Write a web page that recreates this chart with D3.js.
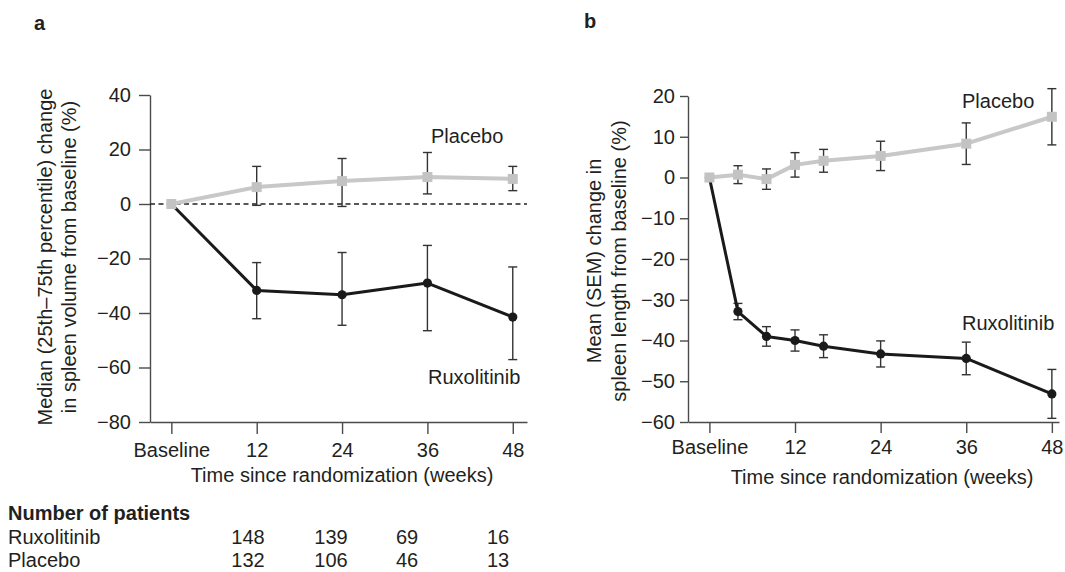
<!DOCTYPE html>
<html><head><meta charset="utf-8">
<script src="https://cdn.jsdelivr.net/npm/d3@7/dist/d3.min.js"></script>
<style>
html,body{margin:0;padding:0;background:#fff;}
svg{display:block;font-family:"Liberation Sans",Arial,Helvetica,sans-serif;}
</style></head>
<body><svg id="c" width="1065" height="572"></svg>
<script>
// ---- Data ----
const tickWeeks = [0, 12, 24, 36, 48];
// Panel a: median (25th–75th percentile) change in spleen volume
const weeksA = [0, 12, 24, 36, 48];
const ruxMedianA = [0, -31.7, -33.3, -29.0, -41.5];
const ruxP25A = [null, -42.1, -44.5, -46.5, -57.1];
const ruxP75A = [null, -21.5, -17.8, -15.2, -23.1];
const plaMedianA = [0, 6.2, 8.4, 9.9, 9.2];
const plaP25A = [null, -0.5, -0.9, 3.7, 4.9];
const plaP75A = [null, 13.8, 16.7, 18.9, 13.8];
const yTicksA = [-80, -60, -40, -20, 0, 20, 40];
// Panel b: mean (SEM) change in spleen length
const weeksB = [0, 4, 8, 12, 16, 24, 36, 48];
const ruxMeanB = [0, -32.9, -39.0, -40.0, -41.4, -43.3, -44.4, -53.1];
const ruxSemB = [null, 2.0, 2.4, 2.6, 2.8, 3.2, 4.0, 6.0];
const plaMeanB = [0, 0.7, -0.4, 3.1, 4.1, 5.3, 8.3, 14.9];
const plaSemB = [null, 2.2, 2.5, 3.0, 2.8, 3.6, 5.1, 6.9];
const yTicksB = [-60, -50, -40, -30, -20, -10, 0, 10, 20];
// Number of patients table
const tableWeeks = [12, 24, 36, 48];
const nRux = [148, 139, 69, 16];
const nPla = [132, 106, 46, 13];

// ---- Style ----
const TXT = "#231f20", AX = "#4a4a4a", ERR = "#333", RUX = "#1a1a1a", PLA = "#c8c8c8", PLA_M = "#c3c3c3";
const svg = d3.select("#c");
const fmtWeek = d => d === 0 ? "Baseline" : String(d);

function drawPanel(o) {
  const x = d3.scaleLinear().domain(o.xDom).range(o.xRange);
  const y = d3.scaleLinear().domain(o.yDom).range(o.yRange);
  const g = svg.append("g");

  // axes
  const ya = g.append("g").attr("transform", `translate(${o.xRange[0]},0)`)
    .call(d3.axisLeft(y).tickValues(o.yTicks).tickSize(o.yTickSize).tickPadding(o.yPad).tickSizeOuter(0));
  const xa = g.append("g").attr("transform", `translate(0,${o.yRange[0]})`)
    .call(d3.axisBottom(x).tickValues(tickWeeks).tickFormat(fmtWeek).tickSize(o.xTickSize).tickPadding(o.xPad).tickSizeOuter(0));
  [ya, xa].forEach(a => {
    a.selectAll("path,line").attr("stroke", AX).attr("stroke-width", 1.4);
    a.selectAll("text").attr("fill", TXT).style("font-size", "20px").style("font-family", "inherit");
  });

  if (o.zeroLine) {
    g.append("line").attr("x1", o.xRange[0]).attr("x2", o.xRange[1])
      .attr("y1", y(0)).attr("y2", y(0))
      .attr("stroke", "#222").attr("stroke-width", 1.3).attr("stroke-dasharray", "5,3.5");
  }

  // error bars
  const cap = 4.5;
  o.series.forEach(s => {
    const eb = g.append("g");
    s.weeks.forEach((w, i) => {
      if (s.lo[i] == null) return;
      const cx = x(w), y1 = y(s.lo[i]), y2 = y(s.hi[i]);
      eb.append("line").attr("x1", cx).attr("x2", cx).attr("y1", y1).attr("y2", y2);
      eb.append("line").attr("x1", cx - cap).attr("x2", cx + cap).attr("y1", y1).attr("y2", y1);
      eb.append("line").attr("x1", cx - cap).attr("x2", cx + cap).attr("y1", y2).attr("y2", y2);
    });
    eb.selectAll("line").attr("stroke", ERR).attr("stroke-width", 1.4);
  });

  // lines & markers
  o.series.forEach(s => {
    const pts = s.weeks.map((w, i) => [w, s.vals[i]]);
    g.append("path").datum(pts)
      .attr("d", d3.line().x(d => x(d[0])).y(d => y(d[1])))
      .attr("fill", "none").attr("stroke", s.color).attr("stroke-width", s.lw).attr("stroke-linejoin", "round");
    if (s.shape === "circle") {
      g.selectAll(null).data(pts).enter().append("circle")
        .attr("cx", d => x(d[0])).attr("cy", d => y(d[1])).attr("r", 4.6).attr("fill", s.color);
    } else {
      g.selectAll(null).data(pts).enter().append("rect")
        .attr("x", d => x(d[0]) - 5).attr("y", d => y(d[1]) - 5).attr("width", 10).attr("height", 10).attr("fill", s.mcolor);
    }
  });

  // series labels
  o.labels.forEach(l => {
    g.append("text").attr("x", l.x).attr("y", l.y).text(l.t)
      .attr("fill", TXT).style("font-size", "20px");
  });

  // axis titles
  g.append("text").attr("x", o.xTitleX).attr("y", o.xTitleY).attr("text-anchor", "middle")
    .attr("fill", TXT).style("font-size", "20px").text("Time since randomization (weeks)");
  o.yTitle.forEach((t, i) => {
    g.append("text").attr("transform", `translate(${o.yTitleX[i]},${o.yTitleY}) rotate(-90)`)
      .attr("text-anchor", "middle").attr("fill", TXT).style("font-size", "20px").text(t);
  });
  g.append("text").attr("x", o.tag[0]).attr("y", o.tag[1]).attr("fill", TXT)
    .style("font-size", "20px").style("font-weight", "bold").text(o.tagText);
  return x;
}

const xA = drawPanel({
  xDom: [-3, 50], xRange: [150, 527], yDom: [-80, 40], yRange: [422, 95],
  yTicks: yTicksA, yTickSize: 11, yPad: 8, xTickSize: 12, xPad: 9, zeroLine: true,
  series: [
    {weeks: weeksA, vals: ruxMedianA, lo: ruxP25A, hi: ruxP75A, color: RUX, lw: 3, shape: "circle"},
    {weeks: weeksA, vals: plaMedianA, lo: plaP25A, hi: plaP75A, color: PLA, mcolor: PLA_M, lw: 4, shape: "square"}
  ],
  labels: [{t: "Placebo", x: 431, y: 143}, {t: "Ruxolitinib", x: 428, y: 384}],
  xTitleX: 342, xTitleY: 482,
  yTitle: ["Median (25th\u201375th percentile) change", "in spleen volume from baseline (%)"],
  yTitleX: [52, 76], yTitleY: 257, tag: [34, 30], tagText: "a"
});

drawPanel({
  xDom: [-3, 49], xRange: [688, 1059], yDom: [-60, 20], yRange: [422, 96],
  yTicks: yTicksB, yTickSize: 8, yPad: 5, xTickSize: 11, xPad: 7, zeroLine: false,
  series: [
    {weeks: weeksB, vals: ruxMeanB, lo: ruxMeanB.map((v, i) => ruxSemB[i] == null ? null : v - ruxSemB[i]), hi: ruxMeanB.map((v, i) => ruxSemB[i] == null ? null : v + ruxSemB[i]), color: RUX, lw: 3, shape: "circle"},
    {weeks: weeksB, vals: plaMeanB, lo: plaMeanB.map((v, i) => plaSemB[i] == null ? null : v - plaSemB[i]), hi: plaMeanB.map((v, i) => plaSemB[i] == null ? null : v + plaSemB[i]), color: PLA, mcolor: PLA_M, lw: 4, shape: "square"}
  ],
  labels: [{t: "Placebo", x: 962, y: 108}, {t: "Ruxolitinib", x: 962, y: 330}],
  xTitleX: 882, xTitleY: 484,
  yTitle: ["Mean (SEM) change in", "spleen length from baseline (%)"],
  yTitleX: [601, 626], yTitleY: 261, tag: [584, 28], tagText: "b"
});

// ---- Number of patients table ----
const colX = [248, 331, 407, 498];
const tg = svg.append("g").attr("fill", TXT).style("font-size", "20px");
tg.append("text").attr("x", 8).attr("y", 520).style("font-weight", "bold").text("Number of patients");
[["Ruxolitinib", nRux, 544], ["Placebo", nPla, 567]].forEach(([name, vals, yy]) => {
  tg.append("text").attr("x", 8).attr("y", yy).text(name);
  tg.selectAll(null).data(vals).enter().append("text")
    .attr("x", (d, i) => colX[i]).attr("y", yy).attr("text-anchor", "middle").text(d => d);
});
</script></body></html>
